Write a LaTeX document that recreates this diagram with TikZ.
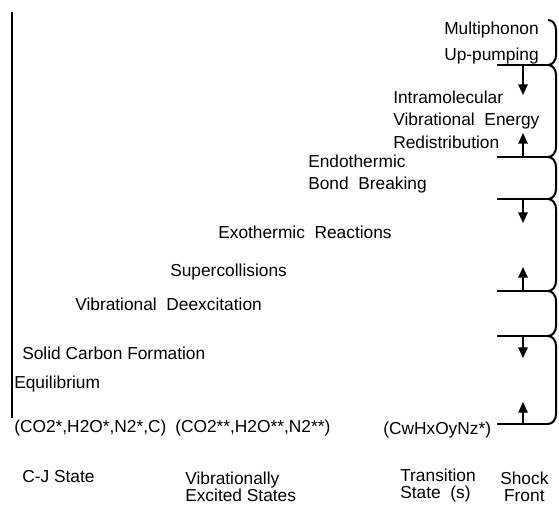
\documentclass[tikz,border=0pt]{standalone}
\usepackage{fontspec}
\setmainfont{Liberation Sans}
\usetikzlibrary{arrows.meta, positioning}
\tikzset{
  lbl/.style={anchor=west, inner sep=0pt, align=left,
              font=\fontsize{13}{#1}\selectfont},
  lbl/.default=12.75,
  timeline/.style={line width=2.2pt},
  front/.style={line width=1.5pt},
  jump/.style={-{Triangle[width=7pt,length=8pt]}, line width=1.4pt},
}
\begin{document}
\begin{tikzpicture}[x=0.75pt, y=-0.75pt]
        \useasboundingbox (0,0) rectangle (559,506);

        % Time line
        \coordinate (top) at (12,12);
        \coordinate (bot) at (12,418);
        \draw[timeline] (top) -- (bot);

        % Processes
        \node[lbl=19.5] (multi) at (444,43) {Multiphonon\\Up-pumping};
        \node[lbl=17] (ivr) at (393,119.5) {Intramolecular\\Vibrational\ \ Energy\\Redistribution};
        \node[lbl=16.5] (endo) at (308,174) {Endothermic\\Bond\ \ Breaking};
        \node[lbl] (exo) at (218,232) {Exothermic\ \ Reactions};
        \node[lbl] (super) at (170,272) {Supercollisions};
        \node[lbl] (vdex) at (75,304) {Vibrational\ \ Deexcitation};
        \node[lbl] (solid) at (22,353) {Solid Carbon Formation};
        \node[lbl] (equil) at (14,384) {Equilibrium};

        % Species
        \node[lbl] (cjmix) at (14,428) {(CO2*,H2O*,N2*,C)};
        \node[lbl] (vibmix) at (175,428) {(CO2**,H2O**,N2**)};
        \node[lbl] (trmix) at (383,430) {(CwHxOyNz*)};

        % States
        \node[lbl] (cjst) at (22,477) {C-J State};
        \node[lbl] (vibst) at (185,486.5) {Vibrationally\\Excited States};
        \node[lbl] (trst) at (400,486) {Transition\\State\ \ (s)};
        \node[lbl, align=center] (shock) at (500,486.5) {Shock\\Front};

        % Shock front
        \coordinate (cusp0) at (548,20);
        \foreach \y/\t [count=\i] in {65/95,157/133,199/223,291/267,336/358,424/402} {
          \coordinate (ln\i) at (497,\y);
          \coordinate (cusp\i) at (548,\y);
          \coordinate (base\i) at (523,\y);
          \coordinate (tip\i) at (523,\t);
        }
        \foreach \a/\b in {0/1,1/2,2/3,3/4,4/5,5/6} {
          \draw[front] (cusp\a) to[out=0, in=90] ++(8,10)
               -- ([shift={(8,-10)}]cusp\b) to[out=-90, in=0] (cusp\b);
          \draw[front] (ln\b) -- (cusp\b);
          \draw[jump] (base\b) -- (tip\b);
        }
      \end{tikzpicture}
\end{document}
